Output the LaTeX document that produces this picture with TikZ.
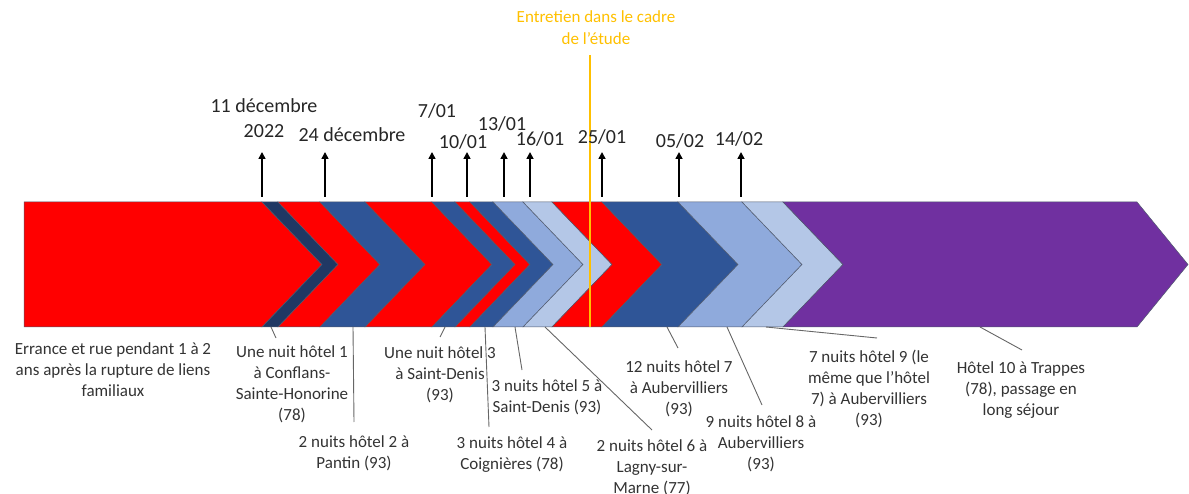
\documentclass[tikz,border=0pt]{standalone}
\usepackage{fontspec}
\setmainfont{Carlito}
\usetikzlibrary{arrows.meta}
\definecolor{cred}{HTML}{FF0000}
\definecolor{cnavy}{HTML}{203864}
\definecolor{cblue}{HTML}{2F5597}
\definecolor{clblue}{HTML}{8FAADC}
\definecolor{cllblue}{HTML}{B4C7E7}
\definecolor{cpurple}{HTML}{7030A0}
\definecolor{corange}{HTML}{FFC000}
\definecolor{cedge}{RGB}{80,90,110}
\begin{document}
\begin{tikzpicture}[x=1pt,y=-1pt,
  seg/.style={draw=cedge, line width=0.5pt, line join=miter},
  uparrow/.style={-{Triangle[length=7pt,width=7pt]}, line width=1.6pt, draw=black},
  datelbl/.style={font=\fontsize{20}{25}\selectfont, text=black!85, inner sep=0pt, anchor=north, align=center},
  lbl/.style={font=\fontsize{17}{21}\selectfont, text=black!80, inner sep=0pt, anchor=north, align=center},
  conn/.style={draw=black!60, line width=0.9pt}]
\useasboundingbox (0,0) rectangle (1189,494);

% bar
\fill[cred,seg] (24,202) -- (262,202) -- (322,264.5) -- (262,327) -- (24,327) -- cycle;
\foreach \l/\r/\c in {262/278/cnavy, 278/320/cred, 320/365/cblue, 365/432/cred,
  432/455/cblue, 455/470/cred, 470/493/cblue, 493/523/clblue, 523/552/cllblue,
  552/602/cred, 602/678/cblue, 678/742/clblue, 742/783/cllblue}{
  \fill[\c,seg] (\l,202) -- (\r,202) -- (\r+60,264.5) -- (\r,327) -- (\l,327) -- (\l+60,264.5) -- cycle;
}
\fill[cpurple,seg] (783,202) -- (1137,202) -- (1188,264.5) -- (1137,327) -- (783,327) -- (843,264.5) -- cycle;

% interview line
\node[lbl, text=corange] (ent) at (596,11) {Entretien dans le cadre\\de l’étude};
\coordinate (ot) at (590,55);
\coordinate (ob) at (590,327);
\draw[corange, line width=1.2pt] (ot) -- (ob);

% arrows
\foreach \n/\x in {1/262,2/325,3/432,4/467,5/504,6/530,7/602,8/679,9/741}{
  \coordinate (ab\n) at (\x,197);
  \coordinate (at\n) at (\x,152);
  \draw[uparrow] (ab\n) -- (at\n);
}

% date labels
\node[datelbl] (d1) at (264,98.5) {11 décembre\\2022};
\node[datelbl] (d2) at (352,127.5) {24 décembre};
\node[datelbl] (d3) at (437,103.5) {7/01};
\node[datelbl] (d4) at (463,134.5) {10/01};
\node[datelbl] (d5) at (502,116.5) {13/01};
\node[datelbl] (d6) at (540,131.5) {16/01};
\node[datelbl] (d7) at (602,129.5) {25/01};
\node[datelbl] (d8) at (680,133.5) {05/02};
\node[datelbl] (d9) at (739,131.5) {14/02};

% bottom labels
\node[lbl] (l0) at (113,342) {Errance et rue pendant 1 à 2\\ans après la rupture de liens\\familiaux};
\node[lbl] (l1) at (292,345) {Une nuit hôtel 1\\à Conflans-\\Sainte-Honorine\\(78)};
\node[lbl] (l2) at (354,435) {2 nuits hôtel 2 à\\Pantin (93)};
\node[lbl] (l3) at (440,346) {Une nuit hôtel 3\\à Saint-Denis\\(93)};
\node[lbl] (l4) at (512,436) {3 nuits hôtel 4 à\\Coignières (78)};
\node[lbl] (l5) at (547,379) {3 nuits hôtel 5 à\\Saint-Denis (93)};
\node[lbl] (l6) at (652,439) {2 nuits hôtel 6 à\\Lagny-sur-\\Marne (77)};
\node[lbl] (l7) at (679,360) {12 nuits hôtel 7\\à Aubervilliers\\(93)};
\node[lbl] (l8) at (761,415) {9 nuits hôtel 8 à\\Aubervilliers\\(93)};
\node[lbl] (l9) at (869,350) {7 nuits hôtel 9 (le\\même que l’hôtel\\7) à Aubervilliers\\(93)};
\node[lbl] (l10) at (1021,361) {Hôtel 10 à Trappes\\(78), passage en\\long séjour};

% connectors
\foreach \n/\sx/\ex/\ey in {1/271/276/338, 2/353/354/422, 3/445/440/337, 4/485/489/427,
  5/515/522/370, 6/545/652/430, 7/667/678/348, 8/727/762/405, 9/766/877/338, 10/980/1022/350}{
  \coordinate (cs\n) at (\sx,327);
  \coordinate (ce\n) at (\ex,\ey);
  \draw[conn] (cs\n) -- (ce\n);
}
\end{tikzpicture}
\end{document}
